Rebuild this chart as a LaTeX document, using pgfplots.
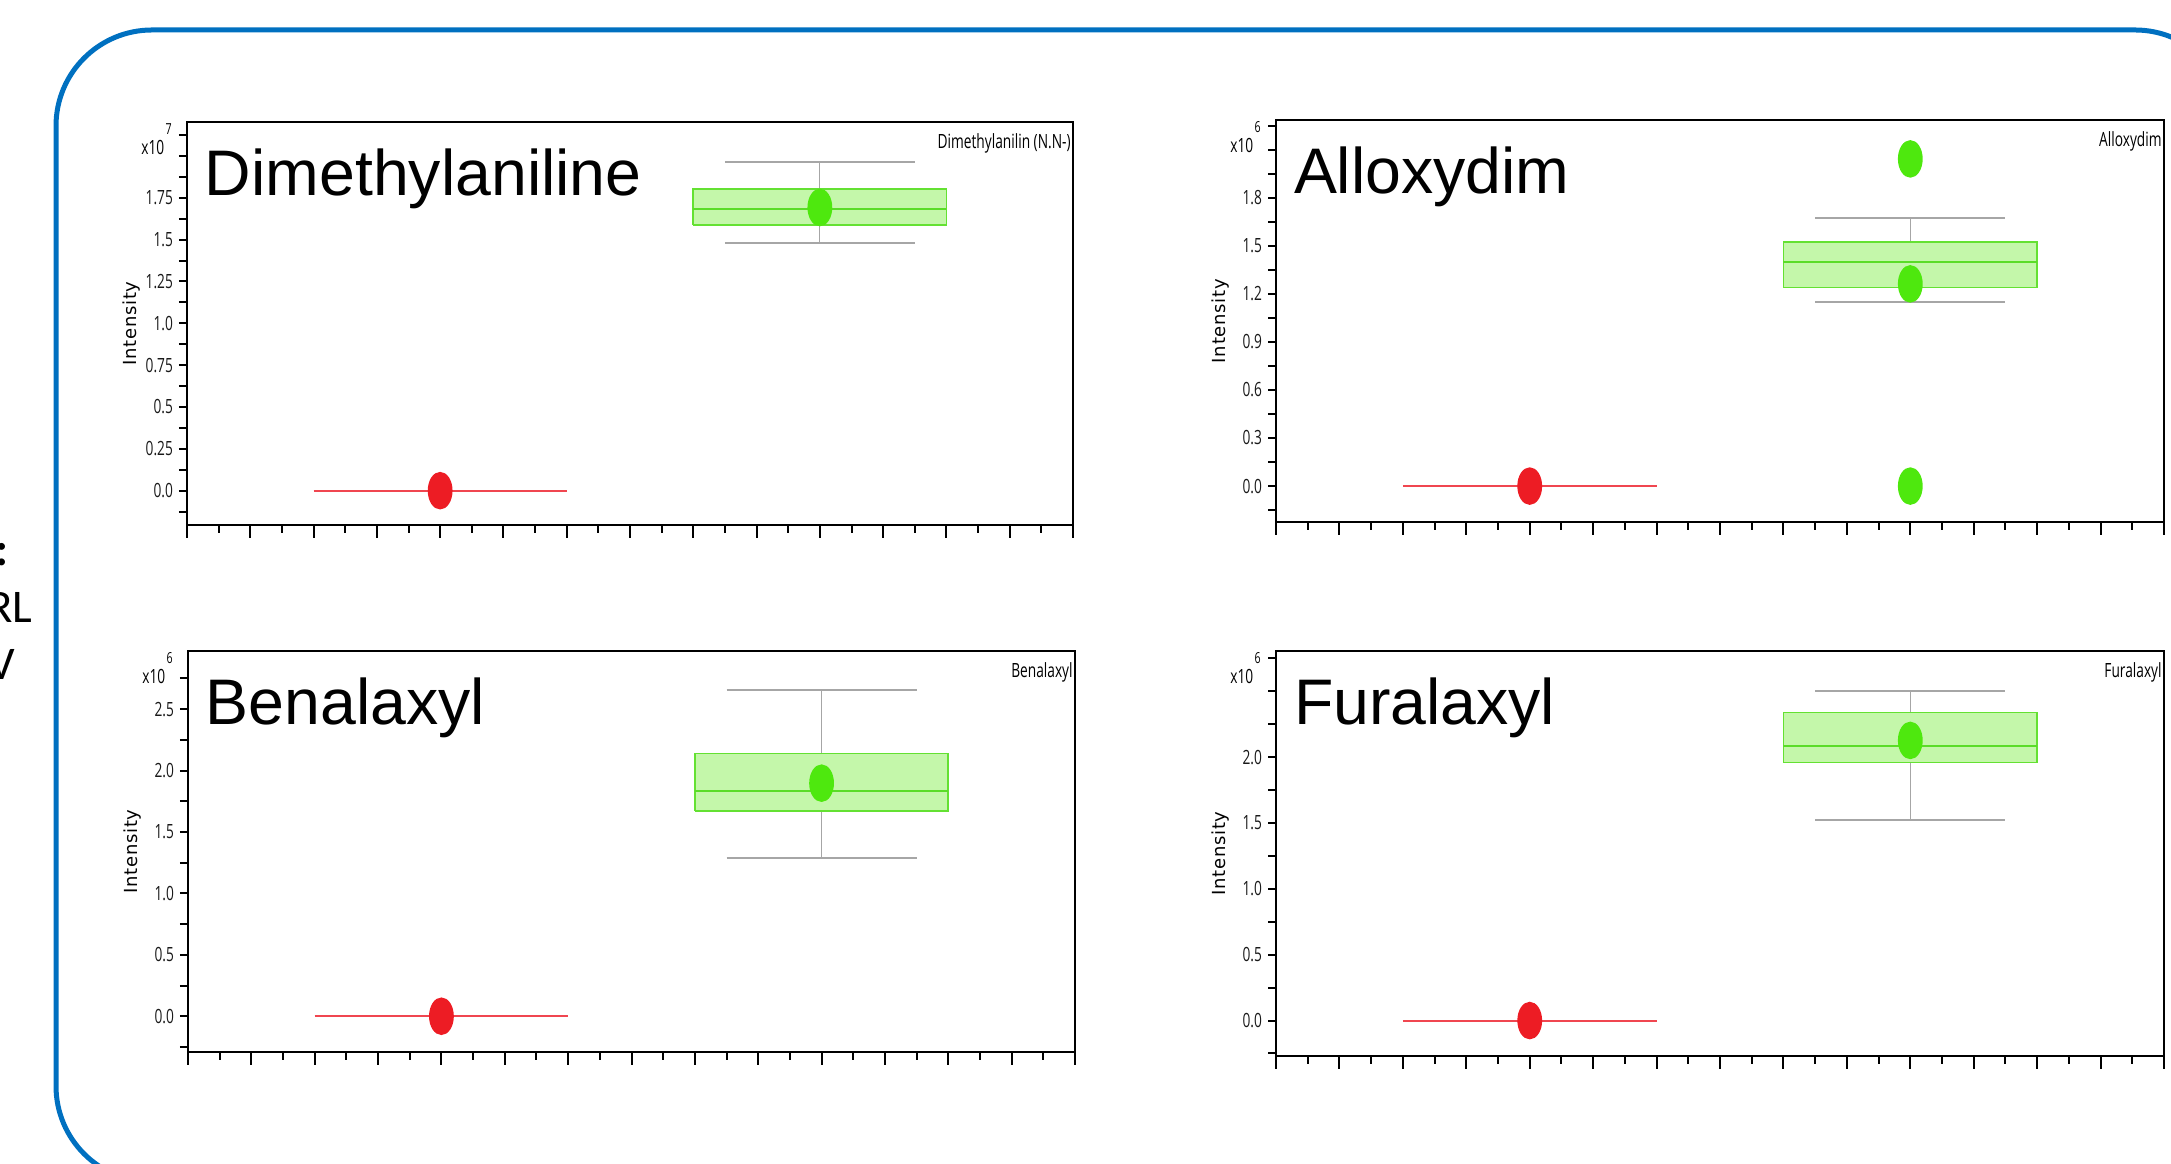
\documentclass[border=0pt]{standalone}
\usepackage{pgfplots}
\pgfplotsset{compat=1.18}
\usepackage{fontspec}
\setmainfont{Liberation Sans}
\newfontfamily\tickfontfam[FakeStretch=0.7]{Open Sans}
\newfontfamily\labfontfam[LetterSpace=4]{DejaVu Sans}
\newfontfamily\sidefontfam{Carlito}
\definecolor{frameblue}{RGB}{0,112,192}
\definecolor{boxfill}{RGB}{196,247,170}
\definecolor{boxedge}{RGB}{100,225,50}
\definecolor{medgreen}{RGB}{90,220,40}
\definecolor{dotgreen}{RGB}{78,232,14}
\definecolor{whisk}{RGB}{166,166,166}
\definecolor{dotred}{RGB}{237,28,36}
\definecolor{redcol}{RGB}{240,70,80}
\newcommand\tickfont{\tickfontfam\fontsize{4.9pt}{5pt}\selectfont}
\newcommand\expfont{\tickfontfam\fontsize{3.8pt}{4pt}\selectfont}
\newcommand\smallfont{\tickfontfam\fontsize{4.9pt}{5pt}\selectfont}
\newcommand\labfont{\labfontfam\fontsize{4.5pt}{5pt}\selectfont}
\newcommand\titlefont{\fontsize{16.1pt}{17pt}\selectfont}
\pgfplotsset{
  myaxis/.style={
    scale only axis, xmin=0, xmax=28, clip=false,
    axis line style={line width=0.5pt},
    tick align=outside, tick pos=left,
    major tick length=2pt, minor tick length=2pt,
    every tick/.style={black, line width=0.5pt},
    xtick={1,3,...,27}, xticklabel=\empty,
    extra x ticks={0,2,...,28},
    extra x tick style={major tick length=3.2pt, xticklabel=\empty},
    yticklabel style={font=\tickfont, text=black!90, xshift=2pt},
    every axis y label/.style={at={(rel axis cs:0,0.5)}, rotate=90, anchor=center, yshift=13.75pt, font=\labfont},
    ylabel={Intensity},
  },
  redseg/.style={redcol, line width=0.5pt, forget plot},
  redmark/.style={only marks, mark=*, mark size=2.9pt, color=dotred, mark options={yscale=1.55}},
  greenmark/.style={only marks, mark=*, mark size=2.9pt, color=dotgreen, mark options={yscale=1.55}},
  whiskline/.style={whisk, line width=0.3pt},
  capline/.style={whisk, line width=0.5pt},
  boxrect/.style={fill=boxfill, draw=boxedge, line width=0.4pt},
  medline/.style={medgreen, line width=0.45pt},
}
\newcommand\decor[3]{%
  \node[anchor=base west, inner sep=0pt, font=\titlefont, xshift=4.3pt, yshift=-18.5pt] at (rel axis cs:0,1) {#1};
  \node[anchor=base east, inner sep=0pt, font=\smallfont, xshift=-0.4pt, yshift=-6.75pt] at (rel axis cs:1,1) {#2};
  \node[anchor=base east, inner sep=0pt, font=\tickfont, xshift=-5.5pt, yshift=-8.25pt] at (rel axis cs:0,1) {x10};
  \node[anchor=north east, inner sep=0pt, font=\expfont, xshift=-3.6pt, yshift=-0.25pt] at (rel axis cs:0,1) {#3};
}
\begin{document}
\begin{tikzpicture}
\useasboundingbox (0,0) rectangle (542.75pt,291pt);
\begin{scope}
\clip (0,0) rectangle (542.75pt,291pt);
\draw[frameblue, line width=1.25pt, rounded corners=24pt] (14pt,-4.5pt) rectangle (557.75pt,283.5pt);
\end{scope}
\node[anchor=base east, inner sep=0pt, font=\sidefontfam\bfseries\fontsize{11.7pt}{12pt}\selectfont] at (2.2pt,149.5pt) {:};
\node[anchor=base east, inner sep=0pt, font=\sidefontfam\fontsize{11.7pt}{12pt}\selectfont] at (8.3pt,135.25pt) {RL};
\node[anchor=base east, inner sep=0pt, font=\sidefontfam\fontsize{11.7pt}{12pt}\selectfont] at (3.9pt,121pt) {V};

% Dimethylaniline
\begin{axis}[myaxis, at={(46.75pt,159.75pt)}, anchor=south west, width=221.5pt, height=100.75pt,
  ymin=-0.205, ymax=2.203,
  ytick={0,0.25,0.5,0.75,1.0,1.25,1.5,1.75,2.0},
  yticklabels={0.0,0.25,0.5,0.75,1.0,1.25,1.5,1.75,{}},
  minor ytick={-0.125,0.125,0.375,0.625,0.875,1.125,1.375,1.625,1.875,2.125}]
\addplot[redseg] coordinates {(4,0) (12,0)};
\addplot[redmark] coordinates {(8,0)};
\addplot[whiskline] coordinates {(20,1.479) (20,1.966)};
\addplot[capline] coordinates {(17,1.966) (23,1.966)};
\addplot[capline] coordinates {(17,1.479) (23,1.479)};
\addplot[boxrect] coordinates {(16,1.588) (24,1.588) (24,1.802) (16,1.802) (16,1.588)};
\addplot[medline] coordinates {(16,1.682) (24,1.682)};
\addplot[greenmark] coordinates {(20,1.692)};
\decor{Dimethylaniline}{Dimethylanilin (N.N-)}{7}
\end{axis}

% Alloxydim
\begin{axis}[myaxis, at={(319pt,160.5pt)}, anchor=south west, width=222pt, height=100.5pt,
  ymin=-0.224, ymax=2.285,
  ytick={0,0.3,0.6,0.9,1.2,1.5,1.8,2.1},
  yticklabels={0.0,0.3,0.6,0.9,1.2,1.5,1.8,{}},
  minor ytick={-0.15,0.15,0.45,0.75,1.05,1.35,1.65,1.95,2.25}]
\addplot[redseg] coordinates {(4,0) (12,0)};
\addplot[redmark] coordinates {(8,0)};
\addplot[whiskline] coordinates {(20,1.152) (20,1.671)};
\addplot[capline] coordinates {(17,1.671) (23,1.671)};
\addplot[capline] coordinates {(17,1.152) (23,1.152)};
\addplot[boxrect] coordinates {(16,1.239) (24,1.239) (24,1.523) (16,1.523) (16,1.239)};
\addplot[medline] coordinates {(16,1.401) (24,1.401)};
\addplot[greenmark] coordinates {(20,2.042) (20,1.262) (20,0)};
\decor{Alloxydim}{Alloxydim}{6}
\end{axis}

% Benalaxyl
\begin{axis}[myaxis, at={(47pt,28pt)}, anchor=south west, width=221.75pt, height=100.25pt,
  ymin=-0.291, ymax=2.973,
  ytick={0,0.5,1.0,1.5,2.0,2.5},
  yticklabels={0.0,0.5,1.0,1.5,2.0,2.5},
  minor ytick={-0.25,0.25,0.75,1.25,1.75,2.25,2.75}]
\addplot[redseg] coordinates {(4,0.005) (12,0.005)};
\addplot[redmark] coordinates {(8,0)};
\addplot[whiskline] coordinates {(20,1.288) (20,2.652)};
\addplot[capline] coordinates {(17,2.652) (23,2.652)};
\addplot[capline] coordinates {(17,1.288) (23,1.288)};
\addplot[boxrect] coordinates {(16,1.670) (24,1.670) (24,2.139) (16,2.139) (16,1.670)};
\addplot[medline] coordinates {(16,1.833) (24,1.833)};
\addplot[greenmark] coordinates {(20,1.897)};
\decor{Benalaxyl}{Benalaxyl}{6}
\end{axis}

% Furalaxyl
\begin{axis}[myaxis, at={(319pt,27pt)}, anchor=south west, width=222pt, height=101.25pt,
  ymin=-0.269, ymax=2.806,
  ytick={0,0.5,1.0,1.5,2.0,2.5},
  yticklabels={0.0,0.5,1.0,1.5,2.0,{}},
  minor ytick={-0.25,0.25,0.75,1.25,1.75,2.25,2.75}]
\addplot[redseg] coordinates {(4,0) (12,0)};
\addplot[redmark] coordinates {(8,0)};
\addplot[whiskline] coordinates {(20,1.522) (20,2.504)};
\addplot[capline] coordinates {(17,2.504) (23,2.504)};
\addplot[capline] coordinates {(17,1.522) (23,1.522)};
\addplot[boxrect] coordinates {(16,1.958) (24,1.958) (24,2.339) (16,2.339) (16,1.958)};
\addplot[medline] coordinates {(16,2.082) (24,2.082)};
\addplot[greenmark] coordinates {(20,2.127)};
\decor{Furalaxyl}{Furalaxyl}{6}
\end{axis}
\end{tikzpicture}
\end{document}
